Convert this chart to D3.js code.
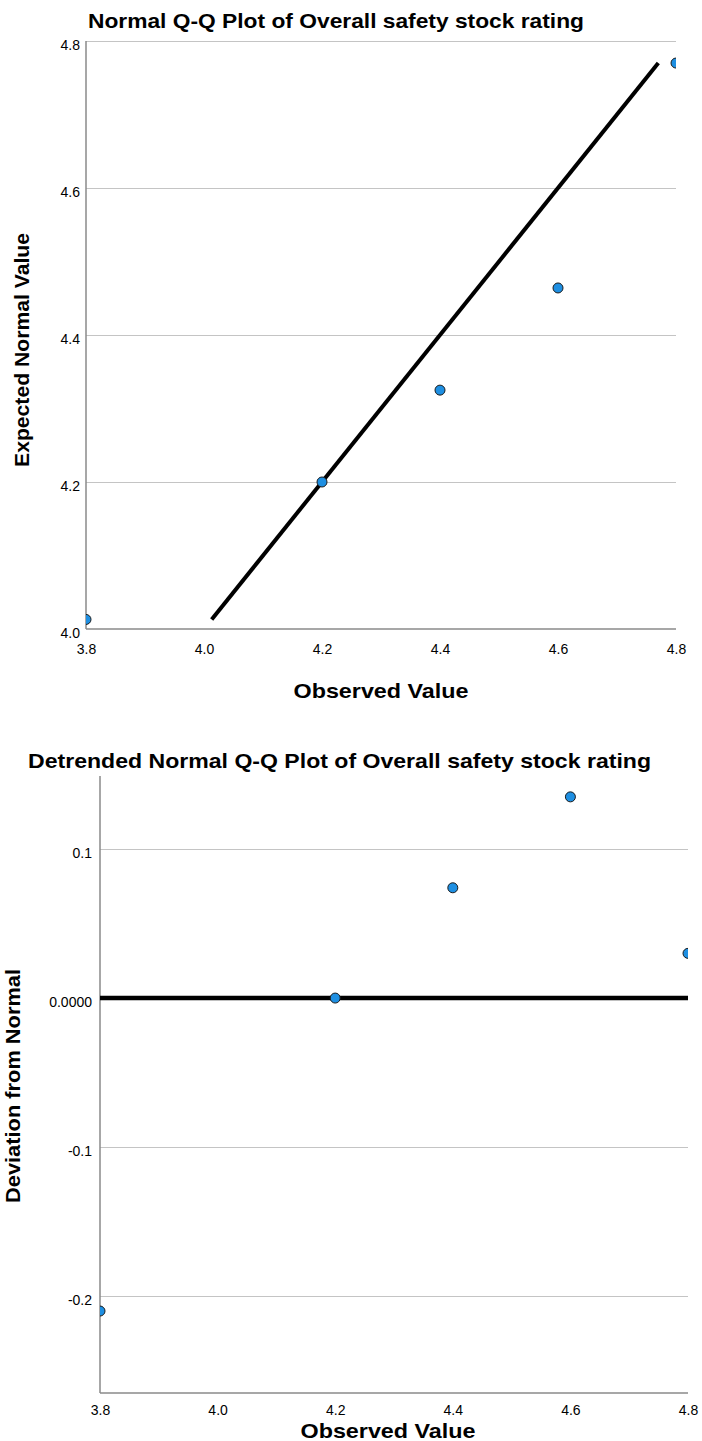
<!DOCTYPE html>
<html>
<head>
<meta charset="utf-8">
<script src="https://cdn.jsdelivr.net/npm/d3@7"></script>
<style>
  html, body { margin: 0; padding: 0; background: #fff; }
  svg text { font-family: "Liberation Sans", Arial, sans-serif; fill: #000; }
  .title, .axis-title { font-weight: bold; }
  .grid { stroke: #c4c4c4; stroke-width: 1; }
  .axis-line { stroke: #8a8a8a; stroke-width: 1.5; }
</style>
</head>
<body>
<div id="chart"></div>
<script>
// observed values and the normal quantiles SPSS put against them
const observed  = [3.8, 4.2, 4.4, 4.6, 4.8];
const expected  = [4.013, 4.2, 4.325, 4.464, 4.77];
const deviation = [-0.210, 0.0, 0.074, 0.135, 0.030];

// reference line (y = x) runs over the expected range
const refLine = [4.013, 4.77];

const xTicks = [3.8, 4.0, 4.2, 4.4, 4.6, 4.8];
const qqYTicks = [4.0, 4.2, 4.4, 4.6, 4.8];
const detYTicks = [-0.2, -0.1, 0.0, 0.1];
const detYLabels = ["-0.2", "-0.1", "0.0000", "0.1"];

const W = 702, H = 1441;
const svg = d3.select("#chart").append("svg")
    .attr("width", W)
    .attr("height", H);

const pointFill = "#1e8fe2", pointStroke = "#1b1b1b";

function panel(opts) {
  let x = d3.scaleLinear().domain(opts.xDomain).range([opts.left, opts.right]),
      y = d3.scaleLinear().domain(opts.yDomain).range([opts.bottom, opts.top]);

  let g = svg.append("g");

  // clip so edge points get cut in half like the original
  g.append("clipPath").attr("id", opts.id + "-clip")
    .append("rect")
      .attr("x", opts.left)
      .attr("y", opts.top)
      .attr("width", opts.right - opts.left)
      .attr("height", opts.bottom - opts.top);

  // gridlines
  g.selectAll(".grid")
      .data(opts.yTicks.filter(d => d !== opts.yDomain[0]))
    .enter().append("line")
      .attr("class", "grid")
      .attr("x1", opts.left).attr("x2", opts.right)
      .attr("y1", d => Math.round(y(d)) + 0.5)
      .attr("y2", d => Math.round(y(d)) + 0.5);

  // axes: labels from d3 axis, lines drawn by hand
  let xAxis = d3.axisBottom(x).tickValues(xTicks).tickSize(0).tickPadding(opts.xPad)
      .tickFormat(d3.format(".1f"));
  let gx = g.append("g").attr("transform", "translate(0," + opts.bottom + ")").call(xAxis);
  gx.select(".domain").remove();
  gx.selectAll("text").style("font-size", "14px").attr("font-family", null);

  let yAxis = d3.axisLeft(y).tickValues(opts.yTicks).tickSize(0).tickPadding(opts.yPad)
      .tickFormat(opts.yFormat);
  let gy = g.append("g").attr("transform", "translate(" + opts.left + ",0)").call(yAxis);
  gy.select(".domain").remove();
  gy.selectAll("text").style("font-size", "14px").attr("font-family", null)
      .attr("dy", "0.6em");

  g.append("line").attr("class", "axis-line")
      .attr("x1", opts.left).attr("x2", opts.right)
      .attr("y1", opts.bottom).attr("y2", opts.bottom);
  g.append("line").attr("class", "axis-line")
      .attr("x1", opts.left).attr("x2", opts.left)
      .attr("y1", opts.top).attr("y2", opts.bottom);

  let plot = g.append("g").attr("clip-path", "url(#" + opts.id + "-clip)");

  // reference line
  plot.append("line")
      .attr("x1", x(opts.line[0][0])).attr("y1", y(opts.line[0][1]))
      .attr("x2", x(opts.line[1][0])).attr("y2", y(opts.line[1][1]))
      .attr("stroke", "#000")
      .attr("stroke-width", opts.lineWidth);

  plot.selectAll(".pt")
      .data(opts.points)
    .enter().append("circle")
      .attr("class", "pt")
      .attr("cx", d => x(d[0]))
      .attr("cy", d => y(d[1]))
      .attr("r", 5)
      .attr("fill", pointFill)
      .attr("stroke", pointStroke)
      .attr("stroke-width", 1);

  // titles
  g.append("text").attr("class", "title")
      .attr("x", opts.titleX).attr("y", opts.titleY)
      .attr("text-anchor", "middle")
      .attr("textLength", opts.titleLen)
      .attr("lengthAdjust", "spacingAndGlyphs")
      .style("font-size", "21px")
      .text(opts.title);

  g.append("text").attr("class", "axis-title")
      .attr("x", opts.xTitleX).attr("y", opts.xTitleY)
      .attr("text-anchor", "middle")
      .attr("textLength", 175)
      .attr("lengthAdjust", "spacingAndGlyphs")
      .style("font-size", "21px")
      .text("Observed Value");

  g.append("text").attr("class", "axis-title")
      .attr("transform", "translate(" + opts.yTitleX + "," + opts.yTitleY + ") rotate(-90)")
      .attr("text-anchor", "middle")
      .attr("textLength", 234)
      .attr("lengthAdjust", "spacingAndGlyphs")
      .style("font-size", "20px")
      .text(opts.yTitle);
}

// Normal Q-Q plot
panel({
  id: "qq",
  left: 86, right: 676, top: 41, bottom: 629,
  xDomain: [3.8, 4.8], yDomain: [4.0, 4.8],
  yTicks: qqYTicks, yFormat: d3.format(".1f"),
  xPad: 15, yPad: 6,
  points: observed.map((d, i) => [d, expected[i]]),
  line: [[refLine[0], refLine[0]], [refLine[1], refLine[1]]],
  lineWidth: 4,
  title: "Normal Q-Q Plot of Overall safety stock rating",
  titleX: 336, titleY: 28, titleLen: 496,
  xTitleX: 381, xTitleY: 698,
  yTitle: "Expected Normal Value", yTitleX: 29, yTitleY: 350
});

// Detrended normal Q-Q plot
panel({
  id: "det",
  left: 100, right: 688, top: 776, bottom: 1393,
  xDomain: [3.8, 4.8], yDomain: [-0.265, 0.149],
  yTicks: detYTicks, yFormat: (d, i) => detYLabels[i],
  xPad: 12, yPad: 8,
  points: observed.map((d, i) => [d, deviation[i]]),
  line: [[3.8, 0], [4.8, 0]],
  lineWidth: 4.5,
  title: "Detrended Normal Q-Q Plot of Overall safety stock rating",
  titleX: 339.5, titleY: 768, titleLen: 623,
  xTitleX: 388, xTitleY: 1438,
  yTitle: "Deviation from Normal", yTitleX: 20, yTitleY: 1086
});
</script>
</body>
</html>
